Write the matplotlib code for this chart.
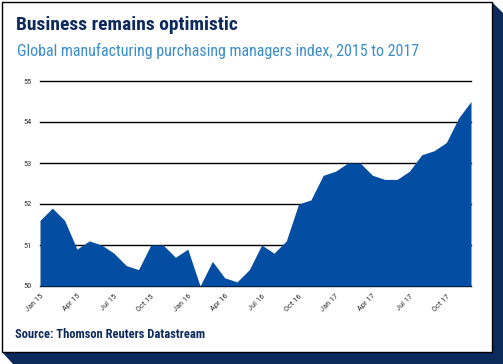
import matplotlib
matplotlib.use("Agg")
import matplotlib.pyplot as plt
from matplotlib import font_manager
from matplotlib.patches import Polygon, Rectangle

# monthly global manufacturing PMI, Jan 2015 - Dec 2017
months = ["Jan 15", "Feb 15", "Mar 15", "Apr 15", "May 15", "Jun 15",
          "Jul 15", "Aug 15", "Sep 15", "Oct 15", "Nov 15", "Dec 15",
          "Jan 16", "Feb 16", "Mar 16", "Apr 16", "May 16", "Jun 16",
          "Jul 16", "Aug 16", "Sep 16", "Oct 16", "Nov 16", "Dec 16",
          "Jan 17", "Feb 17", "Mar 17", "Apr 17", "May 17", "Jun 17",
          "Jul 17", "Aug 17", "Sep 17", "Oct 17", "Nov 17", "Dec 17"]
pmi = [51.6, 51.9, 51.6, 50.9, 51.1, 51.0, 50.8, 50.5, 50.4, 51.0, 51.0, 50.7,
       50.9, 50.0, 50.6, 50.2, 50.1, 50.4, 51.0, 50.8, 51.1, 52.0, 52.1, 52.7,
       52.8, 53.0, 53.0, 52.7, 52.6, 52.6, 52.8, 53.2, 53.3, 53.5, 54.1, 54.5]
yticks = [50, 51, 52, 53, 54, 55]

installed = set(f.name for f in font_manager.fontManager.ttflist)
COND = next((f for f in ["Liberation Sans Narrow", "Roboto Condensed", "Roboto", "DejaVu Sans"]
             if f in installed), "DejaVu Sans")

NAVY = "#0c2a5c"
BLUE = "#034ea2"
LIGHT = "#3b8ecb"

W, H = 503, 364
fig = plt.figure(figsize=(W / 100, H / 100), dpi=100)


def px(x, y):
    return (x / W, 1 - y / H)


# card shadow and frame
shadow = Polygon([px(492, 2), px(503, 13), px(503, 364), px(13, 364), px(2, 352)],
                 closed=True, transform=fig.transFigure, facecolor=NAVY,
                 edgecolor="none", zorder=0)
fig.patches.append(shadow)
card = Rectangle(px(2, 352), 490 / W, 350 / H, transform=fig.transFigure,
                 facecolor="white", edgecolor="black", linewidth=1.0, zorder=1)
fig.patches.append(card)

# plot area: x 40..471, y 55 at 81, 50 at 286
ax = fig.add_axes([40 / W, 1 - 286 / H, 431 / W, 205 / H])
ax.set_zorder(3)
ax.set_facecolor("none")
x = list(range(len(pmi)))
for v in yticks:
    ax.axhline(v, color="black", linewidth=1.0, zorder=1, clip_on=False)
ax.fill_between(x, 50, pmi, color=BLUE, linewidth=0, zorder=2)
ax.set_xlim(0, len(pmi) - 1)
ax.set_ylim(50, 55)
for s in ax.spines.values():
    s.set_visible(False)

ax.set_yticks(yticks)
ax.set_yticklabels([str(v) for v in yticks], fontsize=6, color="#333333", family=COND)
ax.set_xticks(x[::3])
ax.set_xticklabels(months[::3], fontsize=6, color="#333333", family=COND,
                   rotation=45, ha="right", va="top", rotation_mode="anchor")
ax.tick_params(length=0, pad=6)
ax.tick_params(axis="x", pad=5)

fig.text(*px(16, 30), "Business remains optimistic", fontsize=14, fontweight="bold",
         color=NAVY, family=COND, va="baseline", zorder=4)
fig.text(*px(17, 56), "Global manufacturing purchasing managers index, 2015 to 2017",
         fontsize=11.5, color=LIGHT, family=COND, va="baseline", zorder=4)
fig.text(*px(15, 338), "Source: Thomson Reuters Datastream", fontsize=9,
         fontweight="bold", color=NAVY, family=COND, va="baseline", zorder=4)

fig.savefig("out.png", dpi=100)
